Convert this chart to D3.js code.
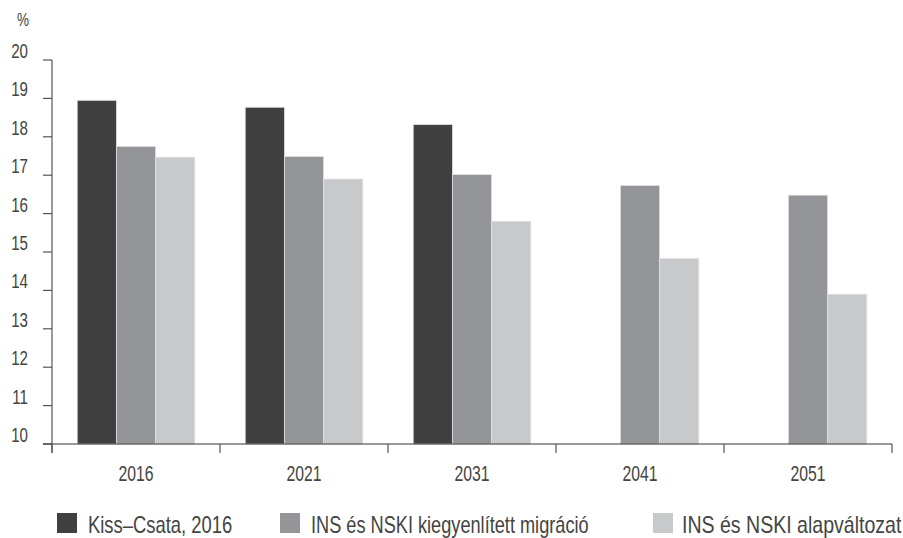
<!DOCTYPE html>
<html><head><meta charset="utf-8">
<script src="https://cdn.jsdelivr.net/npm/d3@7"></script>
<style>
body{margin:0;background:#fff;}
text{font-family:"Liberation Sans","Arial",sans-serif;fill:#444;}
</style></head>
<body><svg id="c" width="903" height="538"></svg>
<script>
const categories = ["2016","2021","2031","2041","2051"];
const seriesNames = ["Kiss–Csata, 2016","INS és NSKI kiegyenlített migráció","INS és NSKI alapváltozat"];
const kissCsata = [18.95, 18.77, 18.32, null, null];
const kiegyenlitett = [17.75, 17.49, 17.02, 16.73, 16.48];
const alapvaltozat = [17.47, 16.90, 15.80, 14.83, 13.90];
const yTicks = [10,11,12,13,14,15,16,17,18,19,20];
const colors = ["#404040","#939598","#c8c9cb"];

(function(){
const series = [kissCsata, kiegyenlitett, alapvaltozat];
const svg = d3.select("#c");
const mLeft = 52, mRight = 892, mTop = 60, mBottom = 444;

const x = d3.scaleBand().domain(categories).range([mLeft, mRight]).paddingInner(0.3).paddingOuter(0.15);
const xb = d3.scaleBand().domain(categories).range([mLeft, mRight]);
const xs = d3.scaleBand().domain(d3.range(series.length)).range([0, x.bandwidth()]);
const y = d3.scaleLinear().domain([10, 20]).range([mBottom, mTop]);

series.forEach((vals, si) => {
  svg.append("g").selectAll("rect")
    .data(categories.map((c, i) => ({c, v: vals[i]})).filter(d => d.v != null))
    .join("rect")
    .attr("x", d => x(d.c) + xs(si))
    .attr("width", xs.bandwidth())
    .attr("y", d => y(d.v))
    .attr("height", d => y(10) - y(d.v))
    .attr("fill", colors[si])
    .attr("stroke", "#e2e2e2")
    .attr("stroke-width", 0.8);
});

const yAxis = svg.append("g");
yAxis.append("line").attr("x1", mLeft).attr("x2", mLeft).attr("y1", y(20)).attr("y2", mBottom + 9)
  .attr("stroke", "#555").attr("stroke-width", 1.2);
yAxis.selectAll("line.t").data(yTicks).join("line").attr("class","t")
  .attr("x1", mLeft - 9).attr("x2", mLeft).attr("y1", d => y(d)).attr("y2", d => y(d))
  .attr("stroke", "#555").attr("stroke-width", 1.2);
yAxis.selectAll("text").data(yTicks).join("text")
  .attr("transform", d => `translate(28,${y(d) - 2}) scale(0.72,1)`)
  .attr("text-anchor", "end")
  .attr("font-size", 21).text(d => d);
svg.append("text").attr("transform", "translate(29,26) scale(0.75,1)").attr("text-anchor", "end").attr("font-size", 18).text("%");

svg.append("line").attr("x1", mLeft - 9).attr("x2", mRight).attr("y1", mBottom).attr("y2", mBottom)
  .attr("stroke", "#333").attr("stroke-width", 1.2);
const bounds = categories.map(c => xb(c)).concat([mRight]);
svg.selectAll("line.xt").data(bounds).join("line").attr("class","xt")
  .attr("x1", d => d).attr("x2", d => d).attr("y1", mBottom).attr("y2", mBottom + 9)
  .attr("stroke", "#555").attr("stroke-width", 1.2);
svg.selectAll("text.xl").data(categories).join("text").attr("class","xl")
  .attr("transform", d => `translate(${xb(d) + xb.bandwidth()/2},481) scale(0.7,1)`)
  .attr("text-anchor", "middle").attr("font-size", 22.5).text(d => d);

const legX = [57, 280, 653];
const legT = [88, 311, 682];
const legS = [0.8, 0.79, 0.85];
const leg = svg.append("g");
seriesNames.forEach((n, i) => {
  leg.append("rect").attr("x", legX[i]).attr("y", 513).attr("width", 20).attr("height", 20).attr("fill", colors[i]);
  leg.append("text").attr("transform", `translate(${legT[i]},533) scale(${legS[i]},1)`).attr("font-size", 23).text(n);
});
})();
</script></body></html>
